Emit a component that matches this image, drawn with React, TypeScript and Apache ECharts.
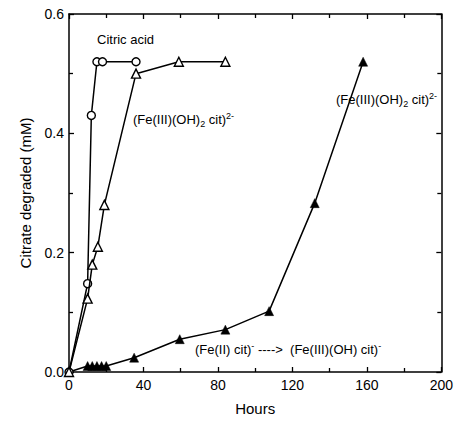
import React, { useEffect, useRef } from "react";
import * as echarts from "echarts";

const citricX = [0, 10, 12, 15, 18, 36];
const citricY = [0, 0.148, 0.43, 0.52, 0.52, 0.52];
const openTriX = [0, 10, 12.5, 15.5, 19, 36, 59, 84];
const openTriY = [0, 0.123, 0.18, 0.21, 0.28, 0.5, 0.52, 0.52];
const filledTriX = [0, 10, 12.5, 15, 17.5, 20, 35, 59.5, 84, 107.5, 132, 158];
const filledTriY = [0, 0.01, 0.01, 0.01, 0.01, 0.01, 0.024, 0.055, 0.071, 0.102, 0.283, 0.52];

const FONT = '"Liberation Sans", Arial, Helvetica, sans-serif';
const INK = "#000";

const zip = (xs: number[], ys: number[]) => xs.map((x, i) => [x, ys[i]]);

export default function App() {
  const ref = useRef<HTMLDivElement>(null);
  useEffect(() => {
    if (!ref.current) return;
    const chart = echarts.init(ref.current, null, { renderer: "svg" });
    const axisCommon = {
      type: "value" as const,
      axisLine: { show: true, onZero: false, lineStyle: { color: INK, width: 1.5 } },
      axisTick: { show: true, inside: true, length: 5, lineStyle: { color: INK, width: 1.3 } },
      minorTick: { show: true, splitNumber: 2, length: 4, lineStyle: { color: INK, width: 1.3 } },
      splitLine: { show: false },
      minorSplitLine: { show: false },
    };
    const rich = {
      sub: { fontSize: 9, fontFamily: FONT, lineHeight: 9, verticalAlign: "bottom", fill: INK, color: INK },
      sup: { fontSize: 9, fontFamily: FONT, lineHeight: 9, verticalAlign: "top", fill: INK, color: INK },
      n: { fontSize: 13, fontFamily: FONT, lineHeight: 17, fill: INK, color: INK },
    };
    const mkText = (x: number, y: number, text: string) => ({
      type: "text",
      left: x,
      top: y,
      style: {
        text,
        fontSize: 13,
        fontFamily: FONT,
        fill: INK,
        rich,
      },
    });
    chart.setOption({
      animation: false,
      grid: { left: 69, right: 14, top: 14, bottom: 43.5 },
      xAxis: [
        {
          ...axisCommon,
          min: 0,
          max: 200,
          interval: 40,
          name: "Hours",
          nameLocation: "middle",
          nameGap: 29,
          nameTextStyle: { fontSize: 15, fontFamily: FONT, color: INK },
          axisLabel: { fontSize: 14, fontFamily: FONT, color: INK, margin: 6 },
        },
        {
          ...axisCommon,
          position: "top",
          min: 0,
          max: 200,
          interval: 40,
          axisLabel: { show: false },
        },
      ],
      yAxis: [
        {
          ...axisCommon,
          min: 0,
          max: 0.6,
          interval: 0.2,
          name: "Citrate degraded (mM)",
          nameLocation: "middle",
          nameGap: 36,
          nameTextStyle: { fontSize: 15, fontFamily: FONT, color: INK },
          axisLabel: {
            fontSize: 14,
            fontFamily: FONT,
            color: INK,
            margin: 5,
            formatter: (v: number) => v.toFixed(1),
          },
        },
        {
          ...axisCommon,
          position: "right",
          min: 0,
          max: 0.6,
          interval: 0.2,
          axisLabel: { show: false },
        },
      ],
      series: [
        {
          type: "line",
          data: zip(filledTriX, filledTriY).map((p, i) =>
            i === 0 ? { value: p, symbol: "none" } : p
          ),
          symbol: "triangle",
          symbolSize: 9,
          lineStyle: { color: INK, width: 1.5 },
          itemStyle: { color: INK, borderColor: INK, borderWidth: 0.5 },
          z: 2,
        },
        {
          type: "line",
          data: zip(citricX, citricY),
          symbol: "circle",
          symbolSize: 8,
          lineStyle: { color: INK, width: 1.5 },
          itemStyle: { color: "#fff", borderColor: INK, borderWidth: 1.4 },
          z: 3,
        },
        {
          type: "line",
          data: zip(openTriX, openTriY),
          symbol: "triangle",
          symbolSize: 9,
          lineStyle: { color: INK, width: 1.5 },
          itemStyle: { color: "#fff", borderColor: INK, borderWidth: 1.4 },
          z: 4,
        },
      ],
      graphic: [
        mkText(97, 33, "{n|Citric acid}"),
        mkText(133, 111, "{n|(Fe(III)(OH)}{sub|2}{n| cit)}{sup|2-}"),
        mkText(336, 91, "{n|(Fe(III)(OH)}{sub|2}{n| cit)}{sup|2-}"),
        mkText(195, 341, "{n|(Fe(II) cit)}{sup|-}{n| ---->  (Fe(III)(OH) cit)}{sup|-}"),
      ],
    });
    return () => chart.dispose();
  }, []);
  return (
    <div
      ref={ref}
      style={{ position: "fixed", left: 0, top: 0, width: 456, height: 421, background: "#fff" }}
    />
  );
}
